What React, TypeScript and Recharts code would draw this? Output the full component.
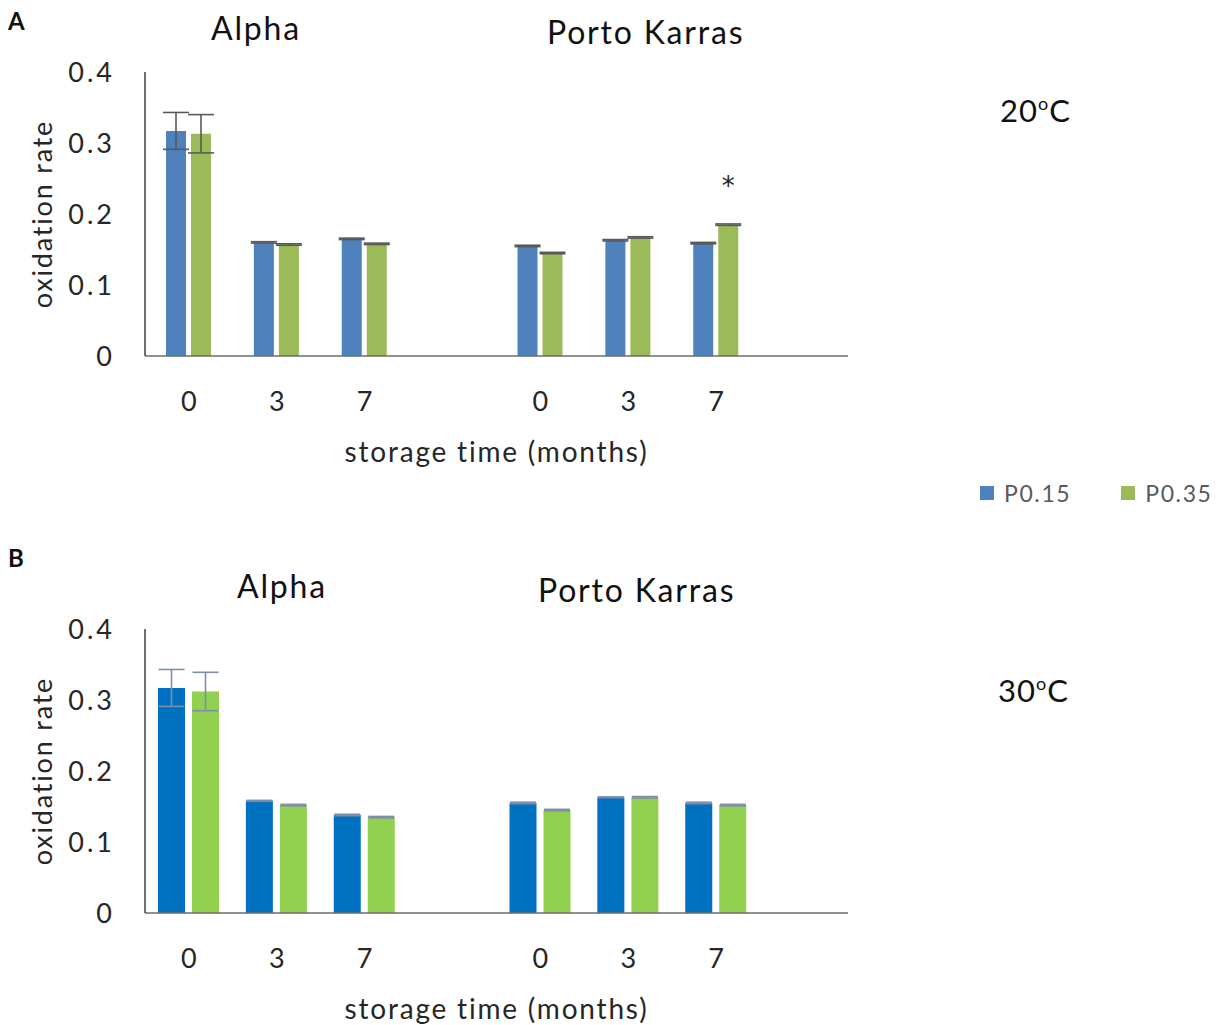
import React from "react"
import {
  BarChart,
  Bar,
  XAxis,
  YAxis,
  ErrorBar,
  Legend,
  LabelList,
} from "recharts"

const FONT = "Lato, 'Open Sans', sans-serif"
const SPACING = "1.8px"

const storageMonths = ["0", "3", "7"]
const seriesNames = ["P0.15", "P0.35"]
const yTicks = [0, 0.1, 0.2, 0.3, 0.4]

// 20 °C — Alpha (0,3,7) then Porto Karras (0,3,7)
const p015At20 = [0.317, 0.16, 0.165, 0.155, 0.163, 0.159]
const p035At20 = [0.313, 0.157, 0.158, 0.145, 0.167, 0.185]
const p015ErrAt20 = [0.026, 0.001, 0.001, 0.001, 0.001, 0.001]
const p035ErrAt20 = [0.027, 0.001, 0.001, 0.001, 0.001, 0.001]
const p035SigAt20 = ["", "", "", "", "", "*"]

// 30 °C
const p015At30 = [0.317, 0.158, 0.138, 0.155, 0.163, 0.155]
const p035At30 = [0.312, 0.152, 0.135, 0.145, 0.163, 0.152]
const p015ErrAt30 = [0.026, 0.0006, 0.001, 0.001, 0.0006, 0.001]
const p035ErrAt30 = [0.027, 0.001, 0.001, 0.001, 0.001, 0.001]
const p035SigAt30 = ["", "", "", "", "", ""]

type Row = {
  month: string
  p015?: number
  p035?: number
  e015?: number
  e035?: number
  sig?: string
}

// two cultivars, each followed by an empty slot
function buildRows(
  a: number[],
  b: number[],
  ea: number[],
  eb: number[],
  sig: string[]
): Row[] {
  const rows: Row[] = []
  for (let g = 0; g < 2; g++) {
    storageMonths.forEach((m, i) => {
      const k = g * storageMonths.length + i
      rows.push({ month: m, p015: a[k], p035: b[k], e015: ea[k], e035: eb[k], sig: sig[k] })
    })
    rows.push({ month: "" })
  }
  return rows
}

const rows20 = buildRows(p015At20, p035At20, p015ErrAt20, p035ErrAt20, p035SigAt20)
const rows30 = buildRows(p015At30, p035At30, p015ErrAt30, p035ErrAt30, p035SigAt30)

const xTickStyle = { fontSize: 27, fill: "#262626", fontFamily: FONT }
const yTickStyle = { ...xTickStyle, letterSpacing: "3px" }

const SigLabel = (props: any) => {
  const { x, y, width, value } = props
  if (!value) return null
  return (
    <text
      x={x + width / 2}
      y={y - 30}
      textAnchor="middle"
      fontSize={26}
      fontFamily="'DejaVu Sans', sans-serif"
      fill="#222"
    >
      {value}
    </text>
  )
}

const LegendBox = ({ payload }: any) => (
  <div
    style={{
      display: "flex",
      fontFamily: FONT,
      fontSize: 23,
      color: "#595959",
      letterSpacing: "1.6px",
    }}
  >
    {(payload || []).map((p: any, i: number) => (
      <div key={i} style={{ display: "flex", alignItems: "center", marginRight: i === 0 ? 50 : 0 }}>
        <span style={{ width: 14, height: 14, background: p.color, display: "inline-block", marginRight: 10 }} />
        <span>{p.value}</span>
      </div>
    ))}
  </div>
)

type PanelProps = {
  rows: Row[]
  blue: string
  green: string
  errColor: string
  barSize: number
  barGap: number
  top: number
  withLegend?: boolean
}

function Panel({ rows, blue, green, errColor, barSize, barGap, top, withLegend }: PanelProps) {
  return (
    <div style={{ position: "absolute", left: 0, top }}>
      <BarChart
        width={1219}
        height={530}
        data={rows}
        barSize={barSize}
        barGap={barGap}
        margin={{ top: 72, right: 371, left: 0, bottom: 74 }}
      >
        <XAxis
          dataKey="month"
          interval={0}
          tickLine={false}
          tickSize={0}
          tickMargin={36}
          axisLine={{ stroke: "#6b6b6b", strokeWidth: 1.5 }}
          tick={xTickStyle}
          height={100}
          label={{
            value: "storage time (months)",
            position: "insideBottom",
            offset: -6,
            style: { fontSize: 28, fill: "#262626", fontFamily: FONT, letterSpacing: SPACING },
          }}
        />
        <YAxis
          domain={[0, 0.4]}
          ticks={yTicks}
          width={145}
          tickLine={false}
          tickSize={0}
          tickMargin={30}
          axisLine={{ stroke: "#404040", strokeWidth: 1.5 }}
          tick={yTickStyle}
          tickFormatter={(v: number) => (v === 0 ? "0" : v.toFixed(1))}
          label={{
            value: "oxidation rate",
            angle: -90,
            position: "center",
            dx: -30,
            style: {
              fontSize: 27,
              fill: "#262626",
              fontFamily: FONT,
              textAnchor: "middle",
              letterSpacing: SPACING,
            },
          }}
        />
        {withLegend && (
          <Legend
            layout="horizontal"
            verticalAlign="middle"
            align="center"
            content={<LegendBox />}
            wrapperStyle={{ left: 980, top: 479, width: 239 }}
          />
        )}
        <Bar dataKey="p015" name={seriesNames[0]} fill={blue} isAnimationActive={false}>
          <ErrorBar dataKey="e015" width={13} stroke={errColor} strokeWidth={1.6} />
        </Bar>
        <Bar dataKey="p035" name={seriesNames[1]} fill={green} isAnimationActive={false}>
          <ErrorBar dataKey="e035" width={13} stroke={errColor} strokeWidth={1.6} />
          <LabelList dataKey="sig" content={<SigLabel />} />
        </Bar>
      </BarChart>
    </div>
  )
}

const textBase: React.CSSProperties = {
  position: "absolute",
  fontFamily: FONT,
  color: "#111",
  whiteSpace: "nowrap",
  lineHeight: 1,
  letterSpacing: SPACING,
}

export default function App() {
  return (
    <div style={{ position: "absolute", left: 0, top: 0, width: 1219, height: 1025, background: "#fff" }}>
      <Panel
        rows={rows20}
        blue="#4F81BD"
        green="#9BBB59"
        errColor="#595959"
        barSize={20}
        barGap={5}
        top={0}
        withLegend
      />
      <Panel
        rows={rows30}
        blue="#0070C0"
        green="#92D050"
        errColor="#7f8ea8"
        barSize={27}
        barGap={7}
        top={557}
      />

      <div style={{ ...textBase, left: 8, top: 9, fontSize: 24, fontWeight: 700, letterSpacing: 0 }}>A</div>
      <div style={{ ...textBase, left: 8, top: 546, fontSize: 24, fontWeight: 700, letterSpacing: 0 }}>B</div>

      <div style={{ ...textBase, left: 211, top: 12, fontSize: 32 }}>Alpha</div>
      <div style={{ ...textBase, left: 547, top: 16, fontSize: 32 }}>Porto Karras</div>
      <div style={{ ...textBase, left: 237, top: 570, fontSize: 32 }}>Alpha</div>
      <div style={{ ...textBase, left: 538, top: 574, fontSize: 32 }}>Porto Karras</div>

      <div style={{ ...textBase, left: 1000, top: 94, fontSize: 31, letterSpacing: "1px" }}>
        20<sup style={{ fontSize: 18, verticalAlign: 12 }}>o</sup>C
      </div>
      <div style={{ ...textBase, left: 998, top: 674, fontSize: 31, letterSpacing: "1px" }}>
        30<sup style={{ fontSize: 18, verticalAlign: 12 }}>o</sup>C
      </div>
    </div>
  )
}
